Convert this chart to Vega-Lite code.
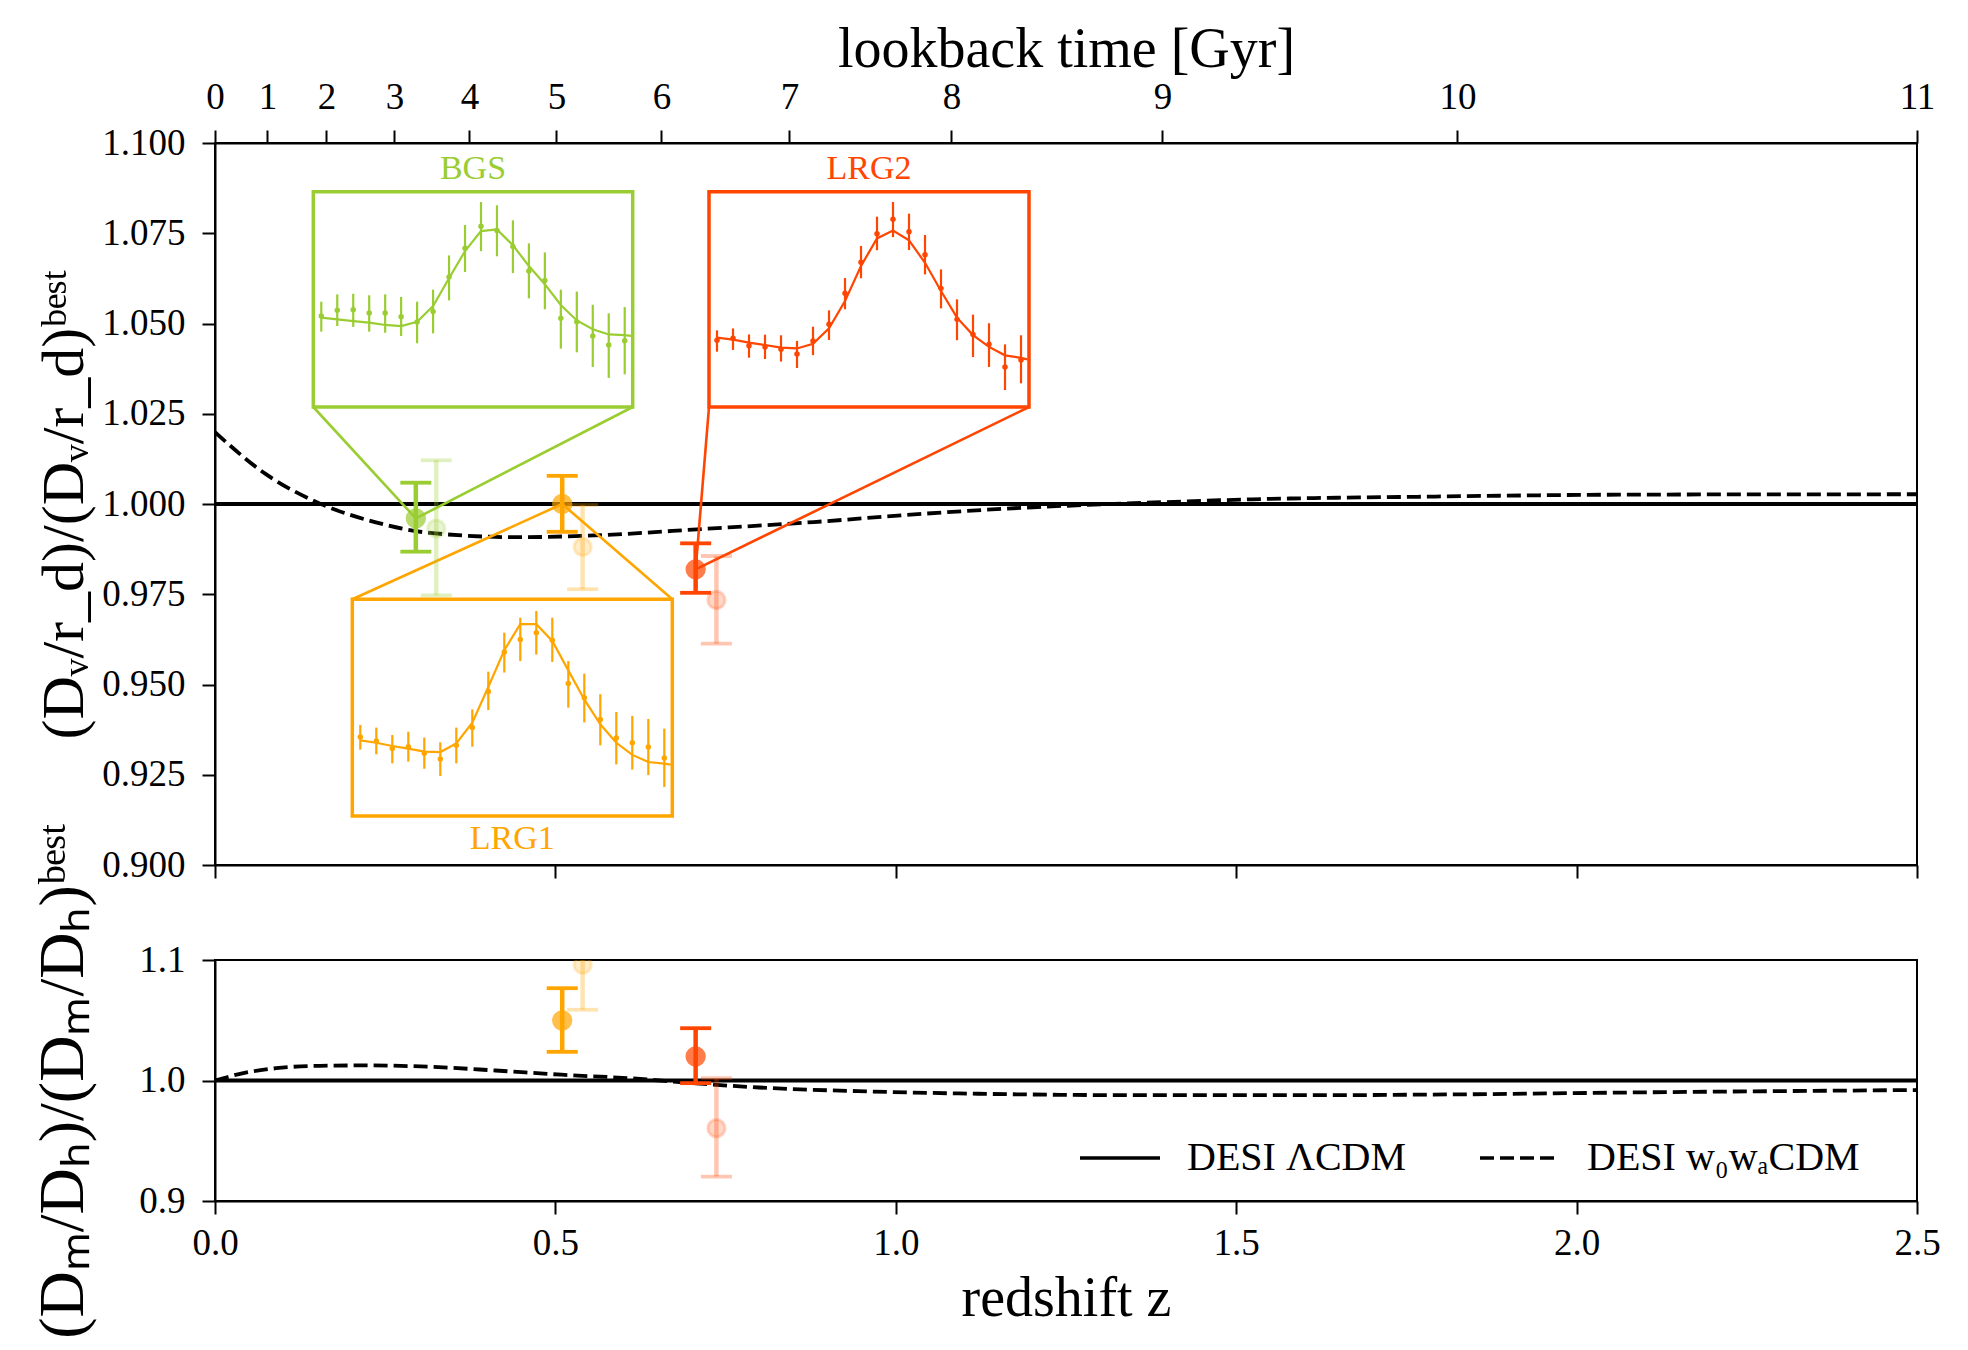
{
  "$schema": "https://vega.github.io/schema/vega-lite/v6.json",
  "background": "white",
  "padding": {"left": 30, "top": 20, "right": 40, "bottom": 20},
  "bounds": "flush",
  "spacing": 95,
  "config": {
    "font": "Liberation Serif",
    "view": {"stroke": "black", "strokeWidth": 2},
    "axis": {"domainColor": "black", "domainWidth": 2, "tickColor": "black", "tickWidth": 2, "tickSize": 13, "labelFontSize": 37, "labelColor": "black", "titleFontSize": 56, "titleFontWeight": "normal", "titleColor": "black", "grid": false, "labelPadding": 11, "labelFlush": false, "labelOverlap": false, "titlePadding": 12}
  },
  "datasets": {
    "models_top": [
      {"model": "DESI ΛCDM", "z": 0, "ratio": 1.0},
      {"model": "DESI ΛCDM", "z": 2.5, "ratio": 1.0},
      {"model": "DESI w₀wₐCDM", "z": 0, "ratio": 1.0199},
      {"model": "DESI w₀wₐCDM", "z": 0.0737, "ratio": 1.0084},
      {"model": "DESI w₀wₐCDM", "z": 0.1544, "ratio": 1.0001},
      {"model": "DESI w₀wₐCDM", "z": 0.2349, "ratio": 0.995},
      {"model": "DESI w₀wₐCDM", "z": 0.3155, "ratio": 0.992},
      {"model": "DESI w₀wₐCDM", "z": 0.4445, "ratio": 0.9908},
      {"model": "DESI w₀wₐCDM", "z": 0.5573, "ratio": 0.9913},
      {"model": "DESI w₀wₐCDM", "z": 0.7183, "ratio": 0.9931},
      {"model": "DESI w₀wₐCDM", "z": 0.8794, "ratio": 0.995},
      {"model": "DESI w₀wₐCDM", "z": 1.0405, "ratio": 0.9973},
      {"model": "DESI w₀wₐCDM", "z": 1.2017, "ratio": 0.9991},
      {"model": "DESI w₀wₐCDM", "z": 1.3628, "ratio": 1.0003},
      {"model": "DESI w₀wₐCDM", "z": 1.524, "ratio": 1.0013},
      {"model": "DESI w₀wₐCDM", "z": 1.7657, "ratio": 1.002},
      {"model": "DESI w₀wₐCDM", "z": 2.088, "ratio": 1.0026},
      {"model": "DESI w₀wₐCDM", "z": 2.5, "ratio": 1.0027}
    ],
    "models_bottom": [
      {"model": "DESI ΛCDM", "z": 0, "ratio": 1.0},
      {"model": "DESI ΛCDM", "z": 2.5, "ratio": 1.0},
      {"model": "DESI w₀wₐCDM", "z": 0, "ratio": 1.0},
      {"model": "DESI w₀wₐCDM", "z": 0.0416, "ratio": 1.0061},
      {"model": "DESI w₀wₐCDM", "z": 0.09, "ratio": 1.0102},
      {"model": "DESI w₀wₐCDM", "z": 0.1544, "ratio": 1.0122},
      {"model": "DESI w₀wₐCDM", "z": 0.2189, "ratio": 1.0125},
      {"model": "DESI w₀wₐCDM", "z": 0.3155, "ratio": 1.0114},
      {"model": "DESI w₀wₐCDM", "z": 0.4122, "ratio": 1.0083},
      {"model": "DESI w₀wₐCDM", "z": 0.5088, "ratio": 1.0048},
      {"model": "DESI w₀wₐCDM", "z": 0.6056, "ratio": 1.002},
      {"model": "DESI w₀wₐCDM", "z": 0.7023, "ratio": 0.9978},
      {"model": "DESI w₀wₐCDM", "z": 0.799, "ratio": 0.9942},
      {"model": "DESI w₀wₐCDM", "z": 0.96, "ratio": 0.9909},
      {"model": "DESI w₀wₐCDM", "z": 1.1212, "ratio": 0.989},
      {"model": "DESI w₀wₐCDM", "z": 1.3628, "ratio": 0.9878},
      {"model": "DESI w₀wₐCDM", "z": 1.6046, "ratio": 0.9878},
      {"model": "DESI w₀wₐCDM", "z": 1.846, "ratio": 0.9886},
      {"model": "DESI w₀wₐCDM", "z": 2.088, "ratio": 0.9901},
      {"model": "DESI w₀wₐCDM", "z": 2.5, "ratio": 0.9921}
    ],
    "dv_points": [
      {"tracer": "BGS", "sample": "reference", "z": 0.325, "v": 0.9932, "lo": 0.9747, "hi": 1.0121},
      {"tracer": "LRG1", "sample": "reference", "z": 0.54, "v": 0.9881, "lo": 0.9764, "hi": 0.9997},
      {"tracer": "LRG2", "sample": "reference", "z": 0.7365, "v": 0.9734, "lo": 0.9613, "hi": 0.9856},
      {"tracer": "BGS", "sample": "DESI", "z": 0.295, "v": 0.996, "lo": 0.9868, "hi": 1.0059},
      {"tracer": "LRG1", "sample": "DESI", "z": 0.51, "v": 1.0, "lo": 0.9923, "hi": 1.0078},
      {"tracer": "LRG2", "sample": "DESI", "z": 0.706, "v": 0.9819, "lo": 0.9754, "hi": 0.9891}
    ],
    "dmdh_points": [
      {"tracer": "LRG1", "sample": "reference", "z": 0.54, "v": 1.096, "lo": 1.0587, "hi": 1.1333},
      {"tracer": "LRG2", "sample": "reference", "z": 0.7365, "v": 0.9604, "lo": 0.9203, "hi": 1.0019},
      {"tracer": "LRG1", "sample": "DESI", "z": 0.51, "v": 1.0498, "lo": 1.0238, "hi": 1.0766},
      {"tracer": "LRG2", "sample": "DESI", "z": 0.706, "v": 1.0199, "lo": 0.9978, "hi": 1.0434}
    ],
    "boxes": [
      {"tracer": "BGS", "z0": 0.14439, "z1": 0.61354, "v0": 1.02687, "v1": 1.08651},
      {"tracer": "LRG2", "z0": 0.72562, "z1": 1.19565, "v0": 1.02687, "v1": 1.08651},
      {"tracer": "LRG1", "z0": 0.20167, "z1": 0.67171, "v0": 0.91357, "v1": 0.9736}
    ],
    "connectors": [
      {"tracer": "BGS", "z_box": 0.14439, "v_box": 1.02687, "z_pt": 0.295, "v_pt": 0.996},
      {"tracer": "BGS", "z_box": 0.61354, "v_box": 1.02687, "z_pt": 0.295, "v_pt": 0.996},
      {"tracer": "LRG2", "z_box": 0.72562, "v_box": 1.02687, "z_pt": 0.706, "v_pt": 0.9819},
      {"tracer": "LRG2", "z_box": 1.19565, "v_box": 1.02687, "z_pt": 0.706, "v_pt": 0.9819},
      {"tracer": "LRG1", "z_box": 0.20167, "v_box": 0.9736, "z_pt": 0.51, "v_pt": 1.0},
      {"tracer": "LRG1", "z_box": 0.67171, "v_box": 0.9736, "z_pt": 0.51, "v_pt": 1.0}
    ],
    "inset_labels": [
      {"tracer": "BGS", "z": 0.37897, "v": 1.0927},
      {"tracer": "LRG2", "z": 0.96064, "v": 1.0927},
      {"tracer": "LRG1", "z": 0.43669, "v": 0.9071}
    ],
    "lookback": [
      {"gyr": 0, "z": 0}, {"gyr": 1, "z": 0.077}, {"gyr": 2, "z": 0.1636}, {"gyr": 3, "z": 0.2635},
      {"gyr": 4, "z": 0.3737}, {"gyr": 5, "z": 0.5015}, {"gyr": 6, "z": 0.6557}, {"gyr": 7, "z": 0.8437},
      {"gyr": 8, "z": 1.0817}, {"gyr": 9, "z": 1.3916}, {"gyr": 10, "z": 1.8249}, {"gyr": 11, "z": 2.5}
    ],
    "inset_points": [
      {"tracer": "BGS", "s": 52.5, "p": 42.3, "lo": 35.0, "hi": 48.9},
      {"tracer": "BGS", "s": 57.5, "p": 44.9, "lo": 37.6, "hi": 52.3},
      {"tracer": "BGS", "s": 62.5, "p": 45.2, "lo": 37.2, "hi": 52.6},
      {"tracer": "BGS", "s": 67.5, "p": 43.7, "lo": 35.0, "hi": 51.9},
      {"tracer": "BGS", "s": 72.5, "p": 43.7, "lo": 34.5, "hi": 52.3},
      {"tracer": "BGS", "s": 77.5, "p": 41.9, "lo": 33.0, "hi": 51.1},
      {"tracer": "BGS", "s": 82.5, "p": 39.5, "lo": 29.6, "hi": 48.9},
      {"tracer": "BGS", "s": 87.5, "p": 44.4, "lo": 34.2, "hi": 54.5},
      {"tracer": "BGS", "s": 92.5, "p": 60.4, "lo": 49.5, "hi": 70.4},
      {"tracer": "BGS", "s": 97.5, "p": 73.7, "lo": 62.7, "hi": 84.5},
      {"tracer": "BGS", "s": 102.5, "p": 83.9, "lo": 72.4, "hi": 95.2},
      {"tracer": "BGS", "s": 107.5, "p": 82.0, "lo": 70.0, "hi": 93.7},
      {"tracer": "BGS", "s": 112.5, "p": 74.6, "lo": 62.2, "hi": 86.7},
      {"tracer": "BGS", "s": 117.5, "p": 63.2, "lo": 50.5, "hi": 76.0},
      {"tracer": "BGS", "s": 122.5, "p": 58.8, "lo": 45.4, "hi": 71.8},
      {"tracer": "BGS", "s": 127.5, "p": 41.2, "lo": 27.1, "hi": 54.5},
      {"tracer": "BGS", "s": 132.5, "p": 39.6, "lo": 25.4, "hi": 53.6},
      {"tracer": "BGS", "s": 137.5, "p": 33.0, "lo": 18.6, "hi": 47.5},
      {"tracer": "BGS", "s": 142.5, "p": 28.8, "lo": 13.5, "hi": 43.5},
      {"tracer": "BGS", "s": 147.5, "p": 30.8, "lo": 15.2, "hi": 46.4},
      {"tracer": "LRG2", "s": 52.5, "p": 31.0, "lo": 25.7, "hi": 35.6},
      {"tracer": "LRG2", "s": 57.5, "p": 31.9, "lo": 26.5, "hi": 36.5},
      {"tracer": "LRG2", "s": 62.5, "p": 28.5, "lo": 22.9, "hi": 33.7},
      {"tracer": "LRG2", "s": 67.5, "p": 27.9, "lo": 22.3, "hi": 33.6},
      {"tracer": "LRG2", "s": 72.5, "p": 26.8, "lo": 21.1, "hi": 33.3},
      {"tracer": "LRG2", "s": 77.5, "p": 24.6, "lo": 18.1, "hi": 30.7},
      {"tracer": "LRG2", "s": 82.5, "p": 30.7, "lo": 24.1, "hi": 37.3},
      {"tracer": "LRG2", "s": 87.5, "p": 38.4, "lo": 31.1, "hi": 44.9},
      {"tracer": "LRG2", "s": 92.5, "p": 52.8, "lo": 45.4, "hi": 59.9},
      {"tracer": "LRG2", "s": 97.5, "p": 67.2, "lo": 59.8, "hi": 74.8},
      {"tracer": "LRG2", "s": 102.5, "p": 80.5, "lo": 72.8, "hi": 88.4},
      {"tracer": "LRG2", "s": 107.5, "p": 87.2, "lo": 78.9, "hi": 95.2},
      {"tracer": "LRG2", "s": 112.5, "p": 81.4, "lo": 72.9, "hi": 89.8},
      {"tracer": "LRG2", "s": 117.5, "p": 70.7, "lo": 61.6, "hi": 79.9},
      {"tracer": "LRG2", "s": 122.5, "p": 55.1, "lo": 45.8, "hi": 63.9},
      {"tracer": "LRG2", "s": 127.5, "p": 40.7, "lo": 31.0, "hi": 50.0},
      {"tracer": "LRG2", "s": 132.5, "p": 33.7, "lo": 23.2, "hi": 42.9},
      {"tracer": "LRG2", "s": 137.5, "p": 29.1, "lo": 18.6, "hi": 38.9},
      {"tracer": "LRG2", "s": 142.5, "p": 18.6, "lo": 7.9, "hi": 29.1},
      {"tracer": "LRG2", "s": 147.5, "p": 21.8, "lo": 11.0, "hi": 33.3},
      {"tracer": "LRG1", "s": 52.5, "p": 36.5, "lo": 30.6, "hi": 42.0},
      {"tracer": "LRG1", "s": 57.5, "p": 34.6, "lo": 28.5, "hi": 40.8},
      {"tracer": "LRG1", "s": 62.5, "p": 31.1, "lo": 24.3, "hi": 37.4},
      {"tracer": "LRG1", "s": 67.5, "p": 32.0, "lo": 25.1, "hi": 38.9},
      {"tracer": "LRG1", "s": 72.5, "p": 28.9, "lo": 21.8, "hi": 36.2},
      {"tracer": "LRG1", "s": 77.5, "p": 26.3, "lo": 18.5, "hi": 34.0},
      {"tracer": "LRG1", "s": 82.5, "p": 32.6, "lo": 24.3, "hi": 40.8},
      {"tracer": "LRG1", "s": 87.5, "p": 40.8, "lo": 32.0, "hi": 49.2},
      {"tracer": "LRG1", "s": 92.5, "p": 57.5, "lo": 48.9, "hi": 66.6},
      {"tracer": "LRG1", "s": 97.5, "p": 75.7, "lo": 66.2, "hi": 84.6},
      {"tracer": "LRG1", "s": 102.5, "p": 81.5, "lo": 71.5, "hi": 91.5},
      {"tracer": "LRG1", "s": 107.5, "p": 84.6, "lo": 74.5, "hi": 94.6},
      {"tracer": "LRG1", "s": 112.5, "p": 81.1, "lo": 71.1, "hi": 91.5},
      {"tracer": "LRG1", "s": 117.5, "p": 61.1, "lo": 50.0, "hi": 71.5},
      {"tracer": "LRG1", "s": 122.5, "p": 54.6, "lo": 43.2, "hi": 65.7},
      {"tracer": "LRG1", "s": 127.5, "p": 44.5, "lo": 32.6, "hi": 56.2},
      {"tracer": "LRG1", "s": 132.5, "p": 36.0, "lo": 23.8, "hi": 48.0},
      {"tracer": "LRG1", "s": 137.5, "p": 33.8, "lo": 21.4, "hi": 46.2},
      {"tracer": "LRG1", "s": 142.5, "p": 31.8, "lo": 18.9, "hi": 44.8},
      {"tracer": "LRG1", "s": 147.5, "p": 26.8, "lo": 13.4, "hi": 40.3}
    ],
    "inset_models": [
      {"tracer": "BGS", "s": 52.5, "m": 41.5}, {"tracer": "BGS", "s": 57.5, "m": 40.7},
      {"tracer": "BGS", "s": 62.5, "m": 39.9}, {"tracer": "BGS", "s": 67.5, "m": 39.2},
      {"tracer": "BGS", "s": 72.5, "m": 38.1}, {"tracer": "BGS", "s": 77.5, "m": 37.6},
      {"tracer": "BGS", "s": 82.5, "m": 39.6}, {"tracer": "BGS", "s": 87.5, "m": 46.9},
      {"tracer": "BGS", "s": 92.5, "m": 59.8}, {"tracer": "BGS", "s": 97.5, "m": 72.4},
      {"tracer": "BGS", "s": 102.5, "m": 81.7}, {"tracer": "BGS", "s": 107.5, "m": 82.5},
      {"tracer": "BGS", "s": 112.5, "m": 75.1}, {"tracer": "BGS", "s": 117.5, "m": 65.5},
      {"tracer": "BGS", "s": 122.5, "m": 57.0}, {"tracer": "BGS", "s": 127.5, "m": 47.4},
      {"tracer": "BGS", "s": 132.5, "m": 40.2}, {"tracer": "BGS", "s": 137.5, "m": 36.1},
      {"tracer": "BGS", "s": 142.5, "m": 33.7}, {"tracer": "BGS", "s": 147.5, "m": 33.4},
      {"tracer": "BGS", "s": 149.5, "m": 33.0},
      {"tracer": "LRG2", "s": 52.5, "m": 32.2}, {"tracer": "LRG2", "s": 57.5, "m": 31.3},
      {"tracer": "LRG2", "s": 62.5, "m": 29.9}, {"tracer": "LRG2", "s": 67.5, "m": 28.8},
      {"tracer": "LRG2", "s": 72.5, "m": 27.6}, {"tracer": "LRG2", "s": 77.5, "m": 27.2},
      {"tracer": "LRG2", "s": 82.5, "m": 29.4}, {"tracer": "LRG2", "s": 87.5, "m": 36.5},
      {"tracer": "LRG2", "s": 92.5, "m": 49.2}, {"tracer": "LRG2", "s": 97.5, "m": 65.5},
      {"tracer": "LRG2", "s": 102.5, "m": 78.3}, {"tracer": "LRG2", "s": 107.5, "m": 82.0},
      {"tracer": "LRG2", "s": 112.5, "m": 77.4}, {"tracer": "LRG2", "s": 117.5, "m": 67.0},
      {"tracer": "LRG2", "s": 122.5, "m": 53.9}, {"tracer": "LRG2", "s": 127.5, "m": 41.5},
      {"tracer": "LRG2", "s": 132.5, "m": 33.4}, {"tracer": "LRG2", "s": 137.5, "m": 27.9},
      {"tracer": "LRG2", "s": 142.5, "m": 24.0}, {"tracer": "LRG2", "s": 147.5, "m": 22.8},
      {"tracer": "LRG2", "s": 149.5, "m": 22.1},
      {"tracer": "LRG1", "s": 52.5, "m": 34.9}, {"tracer": "LRG1", "s": 57.5, "m": 33.8},
      {"tracer": "LRG1", "s": 62.5, "m": 32.3}, {"tracer": "LRG1", "s": 67.5, "m": 31.1},
      {"tracer": "LRG1", "s": 72.5, "m": 29.7}, {"tracer": "LRG1", "s": 77.5, "m": 29.5},
      {"tracer": "LRG1", "s": 82.5, "m": 33.5}, {"tracer": "LRG1", "s": 87.5, "m": 43.1},
      {"tracer": "LRG1", "s": 92.5, "m": 59.5}, {"tracer": "LRG1", "s": 97.5, "m": 76.5},
      {"tracer": "LRG1", "s": 102.5, "m": 88.5}, {"tracer": "LRG1", "s": 107.5, "m": 88.5},
      {"tracer": "LRG1", "s": 112.5, "m": 80.8}, {"tracer": "LRG1", "s": 117.5, "m": 67.2},
      {"tracer": "LRG1", "s": 122.5, "m": 53.8}, {"tracer": "LRG1", "s": 127.5, "m": 42.3},
      {"tracer": "LRG1", "s": 132.5, "m": 33.8}, {"tracer": "LRG1", "s": 137.5, "m": 28.2},
      {"tracer": "LRG1", "s": 142.5, "m": 24.9}, {"tracer": "LRG1", "s": 147.5, "m": 24.2},
      {"tracer": "LRG1", "s": 149.5, "m": 23.7}
    ]
  },
  "resolve": {"scale": {"strokeDash": "independent"}, "legend": {"strokeDash": "independent"}},
  "vconcat": [
    {
      "width": 1702,
      "height": 722,
      "resolve": {"scale": {"x": "independent", "y": "independent"}},
      "layer": [
        {
          "layer": [
            {
              "data": {"name": "models_top"},
              "mark": {"type": "line", "strokeWidth": 3.8, "color": "black", "interpolate": "monotone", "clip": true},
              "encoding": {
                "x": {"field": "z", "type": "quantitative", "scale": {"domain": [0, 2.5], "nice": false, "zero": false},
                      "axis": {"orient": "bottom", "values": [0, 0.5, 1, 1.5, 2, 2.5], "labels": false, "title": null}},
                "y": {"field": "ratio", "type": "quantitative", "scale": {"domain": [0.9, 1.1], "nice": false, "zero": false},
                      "axis": {"values": [0.9, 0.925, 0.95, 0.975, 1.0, 1.025, 1.05, 1.075, 1.1], "format": ".3f", "title": "(Dᵥ/r_d)/(Dᵥ/r_d)ᵇᵉˢᵗ", "titleFontSize": 60, "labelPadding": 17, "titlePadding": 6}},
                "strokeDash": {"field": "model", "type": "nominal", "scale": {"domain": ["DESI ΛCDM", "DESI w₀wₐCDM"], "range": [[1, 0], [14, 6]]}, "legend": null}
              }
            },
            {
              "data": {"name": "connectors"},
              "mark": {"type": "rule", "strokeWidth": 2.6},
              "encoding": {
                "x": {"field": "z_box", "type": "quantitative"},
                "y": {"field": "v_box", "type": "quantitative"},
                "x2": {"field": "z_pt"},
                "y2": {"field": "v_pt"},
                "color": {"field": "tracer", "type": "nominal", "scale": {"domain": ["BGS", "LRG1", "LRG2"], "range": ["#9acd32", "#ffa500", "#ff4500"]}, "legend": null}
              }
            },
            {
              "data": {"name": "dv_points"},
              "mark": {"type": "rule", "strokeWidth": 4.5},
              "encoding": {
                "x": {"field": "z", "type": "quantitative"},
                "y": {"field": "lo", "type": "quantitative"},
                "y2": {"field": "hi"},
                "color": {"field": "tracer", "type": "nominal", "legend": null},
                "opacity": {"field": "sample", "type": "nominal", "scale": {"domain": ["DESI", "reference"], "range": [1, 0.3]}, "legend": null}
              }
            },
            {
              "data": {"name": "dv_points"},
              "mark": {"type": "tick", "orient": "horizontal", "size": 31, "thickness": 3.8},
              "encoding": {
                "x": {"field": "z", "type": "quantitative"},
                "y": {"field": "lo", "type": "quantitative"},
                "color": {"field": "tracer", "type": "nominal", "legend": null},
                "opacity": {"field": "sample", "type": "nominal", "legend": null}
              }
            },
            {
              "data": {"name": "dv_points"},
              "mark": {"type": "tick", "orient": "horizontal", "size": 31, "thickness": 3.8},
              "encoding": {
                "x": {"field": "z", "type": "quantitative"},
                "y": {"field": "hi", "type": "quantitative"},
                "color": {"field": "tracer", "type": "nominal", "legend": null},
                "opacity": {"field": "sample", "type": "nominal", "legend": null}
              }
            },
            {
              "data": {"name": "dv_points"},
              "mark": {"type": "point", "filled": true, "size": 300, "strokeWidth": 3},
              "encoding": {
                "x": {"field": "z", "type": "quantitative"},
                "y": {"field": "v", "type": "quantitative"},
                "color": {"field": "tracer", "type": "nominal", "legend": null},
                "stroke": {"field": "tracer", "type": "nominal", "scale": {"domain": ["BGS", "LRG1", "LRG2"], "range": ["#9acd32", "#ffa500", "#ff4500"]}, "legend": null},
                "fillOpacity": {"field": "sample", "type": "nominal", "scale": {"domain": ["DESI", "reference"], "range": [1, 0.3]}, "legend": null},
                "strokeOpacity": {"field": "sample", "type": "nominal", "scale": {"domain": ["DESI", "reference"], "range": [1, 0.3]}, "legend": null}
              }
            },
            {
              "data": {"name": "boxes"},
              "mark": {"type": "rect", "fill": "white", "strokeWidth": 3.5},
              "encoding": {
                "x": {"field": "z0", "type": "quantitative"},
                "x2": {"field": "z1"},
                "y": {"field": "v0", "type": "quantitative"},
                "y2": {"field": "v1"},
                "stroke": {"field": "tracer", "type": "nominal", "legend": null}
              }
            },
            {
              "data": {"name": "inset_labels"},
              "mark": {"type": "text", "fontSize": 34, "align": "center", "baseline": "middle"},
              "encoding": {
                "x": {"field": "z", "type": "quantitative"},
                "y": {"field": "v", "type": "quantitative"},
                "text": {"field": "tracer"},
                "color": {"field": "tracer", "type": "nominal", "legend": null}
              }
            }
          ]
        },
        {
          "data": {"name": "lookback"},
          "mark": {"type": "rule", "strokeOpacity": 0},
          "encoding": {
            "x": {"field": "z", "type": "quantitative", "scale": {"domain": [0, 2.5], "nice": false, "zero": false},
                  "axis": {"orient": "top", "values": [0, 0.077, 0.1636, 0.2635, 0.3737, 0.5015, 0.6557, 0.8437, 1.0817, 1.3916, 1.8249, 2.5],
                           "labelExpr": "'' + indexof([0, 0.077, 0.1636, 0.2635, 0.3737, 0.5015, 0.6557, 0.8437, 1.0817, 1.3916, 1.8249, 2.5], datum.value)",
                           "title": "lookback time [Gyr]", "labelPadding": 14, "titlePadding": 0}}
          }
        },
        {
          "layer": [
            {
              "data": {"name": "inset_points"},
              "transform": [{"filter": "datum.tracer == 'BGS'"}],
              "mark": {"type": "rule", "strokeWidth": 2.2, "color": "#9acd32"},
              "encoding": {
                "x": {"field": "s", "type": "quantitative", "scale": {"domain": [50, 150], "range": [98.3, 417.7], "nice": false, "zero": false}, "axis": null},
                "y": {"field": "lo", "type": "quantitative", "scale": {"domain": [0, 100], "range": [264, 48.7], "nice": false, "zero": false}, "axis": null},
                "y2": {"field": "hi"}
              }
            },
            {
              "data": {"name": "inset_points"},
              "transform": [{"filter": "datum.tracer == 'BGS'"}],
              "mark": {"type": "point", "filled": true, "size": 30, "opacity": 1, "color": "#9acd32"},
              "encoding": {
                "x": {"field": "s", "type": "quantitative"},
                "y": {"field": "p", "type": "quantitative"}
              }
            },
            {
              "data": {"name": "inset_models"},
              "transform": [{"filter": "datum.tracer == 'BGS'"}],
              "mark": {"type": "line", "strokeWidth": 2.2, "color": "#9acd32"},
              "encoding": {
                "x": {"field": "s", "type": "quantitative"},
                "y": {"field": "m", "type": "quantitative"}
              }
            }
          ]
        },
        {
          "layer": [
            {
              "data": {"name": "inset_points"},
              "transform": [{"filter": "datum.tracer == 'LRG2'"}],
              "mark": {"type": "rule", "strokeWidth": 2.2, "color": "#ff4500"},
              "encoding": {
                "x": {"field": "s", "type": "quantitative", "scale": {"domain": [50, 150], "range": [494, 814], "nice": false, "zero": false}, "axis": null},
                "y": {"field": "lo", "type": "quantitative", "scale": {"domain": [0, 100], "range": [264, 48.7], "nice": false, "zero": false}, "axis": null},
                "y2": {"field": "hi"}
              }
            },
            {
              "data": {"name": "inset_points"},
              "transform": [{"filter": "datum.tracer == 'LRG2'"}],
              "mark": {"type": "point", "filled": true, "size": 30, "opacity": 1, "color": "#ff4500"},
              "encoding": {
                "x": {"field": "s", "type": "quantitative"},
                "y": {"field": "p", "type": "quantitative"}
              }
            },
            {
              "data": {"name": "inset_models"},
              "transform": [{"filter": "datum.tracer == 'LRG2'"}],
              "mark": {"type": "line", "strokeWidth": 2.2, "color": "#ff4500"},
              "encoding": {
                "x": {"field": "s", "type": "quantitative"},
                "y": {"field": "m", "type": "quantitative"}
              }
            }
          ]
        },
        {
          "layer": [
            {
              "data": {"name": "inset_points"},
              "transform": [{"filter": "datum.tracer == 'LRG1'"}],
              "mark": {"type": "rule", "strokeWidth": 2.2, "color": "#ffa500"},
              "encoding": {
                "x": {"field": "s", "type": "quantitative", "scale": {"domain": [50, 150], "range": [137.3, 457.3], "nice": false, "zero": false}, "axis": null},
                "y": {"field": "lo", "type": "quantitative", "scale": {"domain": [0, 100], "range": [673, 456.3], "nice": false, "zero": false}, "axis": null},
                "y2": {"field": "hi"}
              }
            },
            {
              "data": {"name": "inset_points"},
              "transform": [{"filter": "datum.tracer == 'LRG1'"}],
              "mark": {"type": "point", "filled": true, "size": 30, "opacity": 1, "color": "#ffa500"},
              "encoding": {
                "x": {"field": "s", "type": "quantitative"},
                "y": {"field": "p", "type": "quantitative"}
              }
            },
            {
              "data": {"name": "inset_models"},
              "transform": [{"filter": "datum.tracer == 'LRG1'"}],
              "mark": {"type": "line", "strokeWidth": 2.2, "color": "#ffa500"},
              "encoding": {
                "x": {"field": "s", "type": "quantitative"},
                "y": {"field": "m", "type": "quantitative"}
              }
            }
          ]
        }
      ]
    },
    {
      "width": 1702,
      "height": 241,
      "layer": [
        {
          "data": {"name": "models_bottom"},
          "mark": {"type": "line", "strokeWidth": 3.8, "color": "black", "interpolate": "monotone", "clip": true},
          "encoding": {
            "x": {"field": "z", "type": "quantitative", "scale": {"domain": [0, 2.5], "nice": false, "zero": false},
                  "axis": {"values": [0, 0.5, 1, 1.5, 2, 2.5], "format": ".1f", "title": "redshift z", "titlePadding": 10}},
            "y": {"field": "ratio", "type": "quantitative", "scale": {"domain": [0.9, 1.1], "nice": false, "zero": false},
                  "axis": {"values": [0.9, 1.0, 1.1], "format": ".1f", "title": "(Dₘ/Dₕ)/(Dₘ/Dₕ)ᵇᵉˢᵗ", "titleFontSize": 64, "labelPadding": 17, "titlePadding": 43}},
            "strokeDash": {"field": "model", "type": "nominal", "scale": {"domain": ["DESI ΛCDM", "DESI w₀wₐCDM"], "range": [[1, 0], [14, 6]]},
                           "legend": {"orient": "none", "legendX": 863, "legendY": 156, "direction": "horizontal", "title": null, "symbolType": "stroke", "symbolSize": 6400, "symbolStrokeWidth": 3.5, "symbolStrokeColor": "black", "labelFontSize": 40, "labelOffset": 25, "columnPadding": 66, "padding": 0, "labelLimit": 500, "labelColor": "black"}}
          }
        },
        {
          "data": {"name": "dmdh_points"},
          "mark": {"type": "rule", "strokeWidth": 4.5, "clip": true},
          "encoding": {
            "x": {"field": "z", "type": "quantitative"},
            "y": {"field": "lo", "type": "quantitative"},
            "y2": {"field": "hi"},
            "color": {"field": "tracer", "type": "nominal", "scale": {"domain": ["BGS", "LRG1", "LRG2"], "range": ["#9acd32", "#ffa500", "#ff4500"]}, "legend": null},
            "opacity": {"field": "sample", "type": "nominal", "scale": {"domain": ["DESI", "reference"], "range": [1, 0.3]}, "legend": null}
          }
        },
        {
          "data": {"name": "dmdh_points"},
          "mark": {"type": "tick", "orient": "horizontal", "size": 31, "thickness": 3.8, "clip": true},
          "encoding": {
            "x": {"field": "z", "type": "quantitative"},
            "y": {"field": "lo", "type": "quantitative"},
            "color": {"field": "tracer", "type": "nominal", "legend": null},
            "opacity": {"field": "sample", "type": "nominal", "legend": null}
          }
        },
        {
          "data": {"name": "dmdh_points"},
          "mark": {"type": "tick", "orient": "horizontal", "size": 31, "thickness": 3.8, "clip": true},
          "encoding": {
            "x": {"field": "z", "type": "quantitative"},
            "y": {"field": "hi", "type": "quantitative"},
            "color": {"field": "tracer", "type": "nominal", "legend": null},
            "opacity": {"field": "sample", "type": "nominal", "legend": null}
          }
        },
        {
          "data": {"name": "dmdh_points"},
          "mark": {"type": "point", "filled": true, "size": 300, "strokeWidth": 3, "clip": true},
          "encoding": {
            "x": {"field": "z", "type": "quantitative"},
            "y": {"field": "v", "type": "quantitative"},
            "color": {"field": "tracer", "type": "nominal", "legend": null},
            "stroke": {"field": "tracer", "type": "nominal", "scale": {"domain": ["BGS", "LRG1", "LRG2"], "range": ["#9acd32", "#ffa500", "#ff4500"]}, "legend": null},
            "fillOpacity": {"field": "sample", "type": "nominal", "scale": {"domain": ["DESI", "reference"], "range": [1, 0.3]}, "legend": null},
            "strokeOpacity": {"field": "sample", "type": "nominal", "scale": {"domain": ["DESI", "reference"], "range": [1, 0.3]}, "legend": null}
          }
        }
      ]
    }
  ]
}
